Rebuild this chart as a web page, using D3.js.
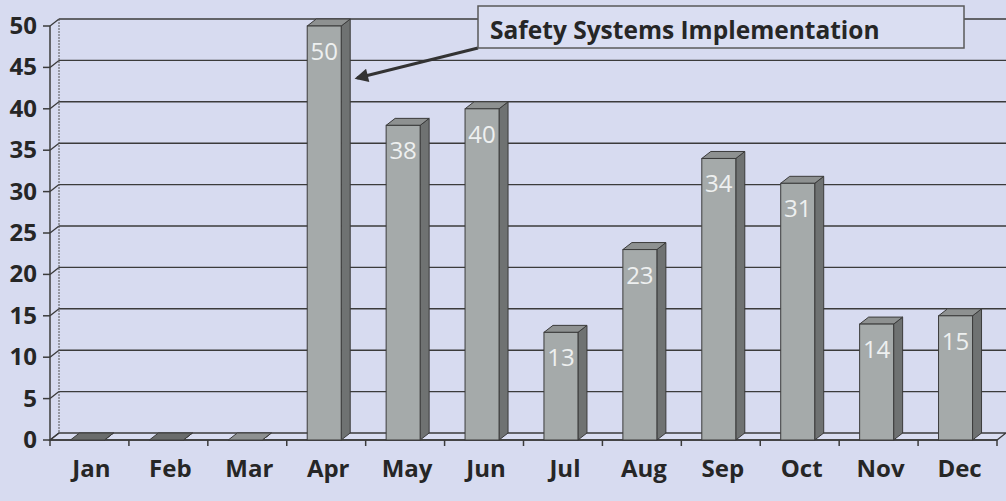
<!DOCTYPE html>
<html>
<head>
<meta charset="utf-8">
<script src="https://cdn.jsdelivr.net/npm/d3@7"></script>
<style>
  body { margin: 0; background: #d7dbf0; }
  svg { display: block; font-family: "Open Sans", "Noto Sans", sans-serif; }
  .tick-label { font-weight: 700; font-size: 24px; fill: #262626; }
  .val { font-size: 24px; fill: #eef0f0; text-anchor: middle; }
</style>
</head>
<body>
<div id="chart"></div>
<script>
const months = ["Jan", "Feb", "Mar", "Apr", "May", "Jun", "Jul", "Aug", "Sep", "Oct", "Nov", "Dec"];
const values = [0, 0, 0, 50, 38, 40, 13, 23, 34, 31, 14, 15];
const yTicks = [0, 5, 10, 15, 20, 25, 30, 35, 40, 45, 50];
const annotation = "Safety Systems Implementation";
const annotatedMonth = "Apr";

const width = 1006;
const height = 501;
const DX = 9, DY = -7;   // depth offset of the 3d look

const svg = d3.select("#chart").append("svg")
  .attr("width", width).attr("height", height);

svg.append("rect").attr("width", width).attr("height", height).attr("fill", "#d7dbf0");

const x = d3.scaleBand().domain(months).range([50, 997]);
const y = d3.scaleLinear().domain([0, 50]).range([440, 26]);

const lineCol = "#3b3b3b";

// floor
svg.append("path")
  .attr("d", `M${x.range()[0]},${y(0)} L${x.range()[1]},${y(0)} L${x.range()[1] + DX},${y(0) + DY} L${x.range()[0] + DX},${y(0) + DY} Z`)
  .attr("fill", "#dadef2").attr("stroke", lineCol).attr("stroke-width", 1.3);

// back wall gridlines
const grid = svg.append("g");
grid.selectAll("line")
  .data(yTicks.filter(d => d > 0))
  .enter().append("line")
  .attr("x1", x.range()[0] + DX).attr("x2", width)
  .attr("y1", d => y(d) + DY).attr("y2", d => y(d) + DY)
  .attr("stroke", lineCol).attr("stroke-width", 1.4);

// left side wall
svg.append("line")
  .attr("x1", x.range()[0] + DX).attr("x2", x.range()[0] + DX)
  .attr("y1", y(50) + DY).attr("y2", y(0) + DY)
  .attr("stroke", "#555").attr("stroke-width", 1).attr("stroke-dasharray", "2,1");
grid.selectAll(".conn")
  .data(yTicks)
  .enter().append("line")
  .attr("x1", x.range()[0]).attr("x2", x.range()[0] + DX)
  .attr("y1", d => y(d)).attr("y2", d => y(d) + DY)
  .attr("stroke", lineCol).attr("stroke-width", 1.3);

// front y axis
const yAxis = svg.append("g");
yAxis.append("line")
  .attr("x1", x.range()[0]).attr("x2", x.range()[0])
  .attr("y1", y(50)).attr("y2", y(0))
  .attr("stroke", lineCol).attr("stroke-width", 1.5);
yAxis.selectAll(".tk")
  .data(yTicks).enter().append("line")
  .attr("x1", x.range()[0] - 7).attr("x2", x.range()[0])
  .attr("y1", d => y(d)).attr("y2", d => y(d))
  .attr("stroke", lineCol).attr("stroke-width", 1.5);
yAxis.selectAll("text")
  .data(yTicks).enter().append("text")
  .attr("class", "tick-label")
  .attr("x", 37).attr("y", d => y(d) + 8)
  .attr("text-anchor", "end")
  .text(d => d);

// front x axis
const xAxis = svg.append("g");
xAxis.append("line")
  .attr("x1", x.range()[0]).attr("x2", x.range()[1])
  .attr("y1", y(0)).attr("y2", y(0))
  .attr("stroke", lineCol).attr("stroke-width", 1.5);
xAxis.selectAll(".tk")
  .data(months.map(m => x(m)).concat([x.range()[1]])).enter().append("line")
  .attr("x1", d => d).attr("x2", d => d)
  .attr("y1", y(0)).attr("y2", y(0) + 6)
  .attr("stroke", lineCol).attr("stroke-width", 1.5);
xAxis.selectAll("text")
  .data(months).enter().append("text")
  .attr("class", "tick-label")
  .attr("x", d => x(d) + x.bandwidth() / 2 + 2)
  .attr("y", 477)
  .attr("text-anchor", "middle")
  .text(d => d);

// bars
const bw = 34;
const bx = d => x(d) + x.bandwidth() / 2 - bw / 2 - 2;
const data = months.map((m, i) => ({ month: m, value: values[i] }));

const bars = svg.append("g").selectAll("g")
  .data(data).enter().append("g");

bars.append("path") // side
  .attr("d", d => {
    const x0 = bx(d.month) + bw, t = y(d.value), b = y(0);
    return `M${x0},${b} L${x0 + DX},${b + DY} L${x0 + DX},${t + DY} L${x0},${t} Z`;
  })
  .attr("fill", "#6f7272").attr("stroke", lineCol).attr("stroke-width", 1);

bars.append("path") // top
  .attr("d", d => {
    const x0 = bx(d.month), t = y(d.value);
    return `M${x0},${t} L${x0 + bw},${t} L${x0 + bw + DX},${t + DY} L${x0 + DX},${t + DY} Z`;
  })
  .attr("fill", d => d.value === 0 && d.month !== "Mar" ? "#6a6c6c" : "#8e9191")
  .attr("stroke", lineCol).attr("stroke-width", 1);

bars.append("rect") // front
  .attr("x", d => bx(d.month))
  .attr("y", d => y(d.value))
  .attr("width", bw)
  .attr("height", d => y(0) - y(d.value))
  .attr("fill", "#a5aaaa").attr("stroke", lineCol).attr("stroke-width", 1);

bars.filter(d => d.value > 0).append("text")
  .attr("class", "val")
  .attr("x", d => bx(d.month) + bw / 2)
  .attr("y", d => y(d.value) + 34)
  .text(d => d.value);

// annotation
svg.append("defs").append("marker")
  .attr("id", "arrow").attr("viewBox", "0 0 10 10")
  .attr("refX", 8).attr("refY", 5)
  .attr("markerWidth", 6).attr("markerHeight", 4.5)
  .attr("orient", "auto")
  .append("path").attr("d", "M0,0 L10,5 L0,10 Z").attr("fill", "#333");

const target = data.find(d => d.month === annotatedMonth);
const boxX = 478, boxY = 6, boxW = 486, boxH = 42;
svg.append("line")
  .attr("x1", boxX).attr("y1", boxY + boxH)
  .attr("x2", bx(target.month) + bw + DX + 7).attr("y2", y(target.value) + 52)
  .attr("stroke", "#333").attr("stroke-width", 3)
  .attr("marker-end", "url(#arrow)");
svg.append("rect")
  .attr("x", boxX).attr("y", boxY).attr("width", boxW).attr("height", boxH)
  .attr("fill", "#dadef2").attr("stroke", "#5a5a5a").attr("stroke-width", 1.5);
svg.append("text")
  .attr("x", boxX + 12).attr("y", boxY + 33)
  .attr("font-weight", 700).attr("font-size", "24.5px").attr("fill", "#262626")
  .text(annotation);
</script>
</body>
</html>
